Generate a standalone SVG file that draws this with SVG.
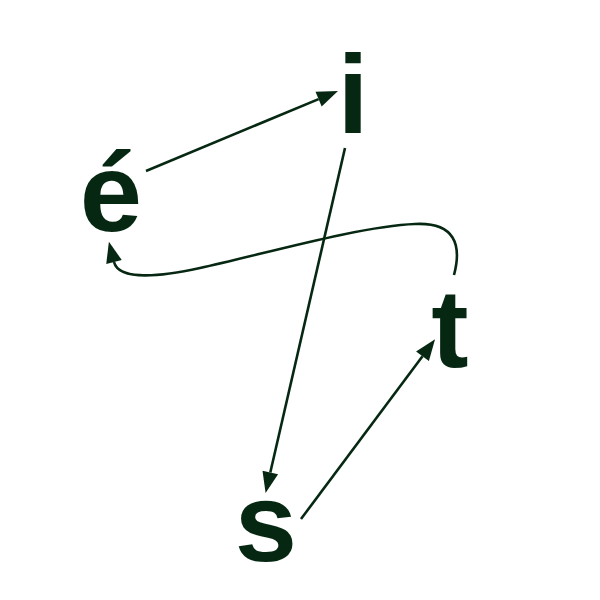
<svg xmlns="http://www.w3.org/2000/svg" width="600" height="600" viewBox="0 0 600 600">
<style>
.lbl{font-family:"Liberation Sans",Arial,sans-serif;font-weight:bold;font-size:112px;fill:#062812;text-anchor:middle}
.edge{fill:none;stroke:#062812;stroke-width:2.6}
</style>
<defs>
<marker id="arr" markerUnits="userSpaceOnUse" markerWidth="21" markerHeight="16" refX="0" refY="8" orient="auto" overflow="visible">
<path d="M0,0 L21,8 L0,16 z" fill="#062812"/>
</marker>
</defs>
<rect width="600" height="600" fill="#ffffff"/>
<g id="edges">
<path class="edge" d="M146,171 L318.6,99.1" marker-end="url(#arr)"/>
<path class="edge" d="M345,148 L270.3,472.5" marker-end="url(#arr)"/>
<path class="edge" d="M301,519 L422.5,356.2" marker-end="url(#arr)"/>
<path class="edge" d="M454,275 C462,245 455,222 415,224 C360,226 260,255 200,268 C150,279 118,278 114,262" marker-end="url(#arr)"/>
</g>
<g id="node-e"><text class="lbl" x="111" y="231">é</text></g>
<g id="node-i"><text class="lbl" x="353" y="133">i</text></g>
<g id="node-t"><text class="lbl" x="450" y="367">t</text></g>
<g id="node-s"><text class="lbl" x="266" y="561">s</text></g>
</svg>
